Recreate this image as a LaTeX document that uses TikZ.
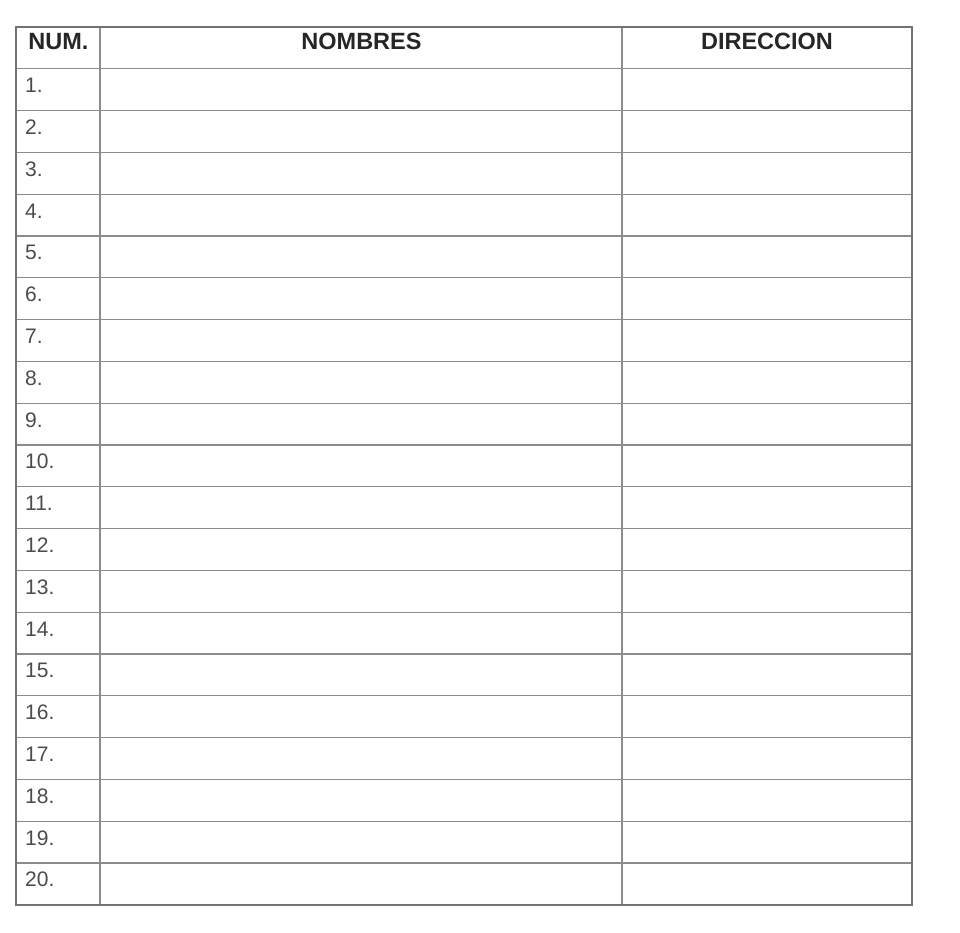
\documentclass[tikz,border=0pt]{standalone}
\usepackage{fontspec}
\setmainfont{Liberation Sans}
\usetikzlibrary{positioning}
\tikzset{
	encabezado/.style={font=\fontsize{23.5}{28}\selectfont\bfseries, text=black!85, 
		inner sep=0pt, anchor=base},
	numero/.style={font=\fontsize{21}{25}\selectfont, text=black!70, 
		inner sep=0pt, anchor=base west},
	rejilla/.style={draw=black!45, line width=1.3pt},
	borde/.style={draw=black!55, line width=1.5pt}
}

\begin{document}
\begin{tikzpicture}[x=1pt, y=-1pt]
			\useasboundingbox[fill=white] (0,0) rectangle (960,932);
			
			% lineas de las filas
			\foreach \i in {1,...,20}
				\draw[rejilla] (16,27+41.8*\i) -- (912,27+41.8*\i);
			% columnas
			\draw[rejilla] (100,27) -- (100,905);
			\draw[rejilla] (622,27) -- (622,905);
			\draw[borde] (16,27) rectangle (912,905);
			
			\node[encabezado] (num) at (58.5,49.3) {NUM.};
			\node[encabezado] (nombres) at (361.5,49.3) {NOMBRES};
			\node[encabezado] (direccion) at (767,49.3) {DIRECCION};
			
			\foreach \i in {1,...,20}
				\node[numero] (n\i) at (25,27+41.8*\i+23.8) {\i.};
		\end{tikzpicture}
\end{document}
